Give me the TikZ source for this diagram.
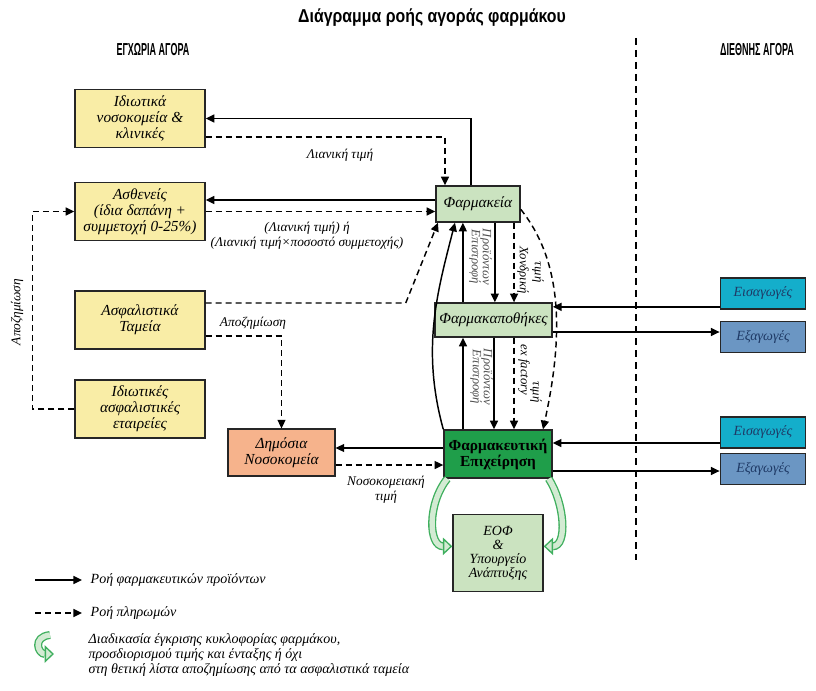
\documentclass[tikz,border=0pt]{standalone}
\usepackage{fontspec}
\setmainfont{Liberation Serif}
\newfontfamily\headfont[FakeStretch=0.85]{Liberation Sans}
\newfontfamily\subfont[FakeStretch=0.52]{Liberation Sans}
\usetikzlibrary{arrows.meta,positioning,calc}
\definecolor{cYel}{HTML}{F9EDA6}
\definecolor{cLgreen}{HTML}{CBE3C0}
\definecolor{cDgreen}{HTML}{1F9E4A}
\definecolor{cSalmon}{HTML}{F6B38C}
\definecolor{cCyan}{HTML}{14AECB}
\definecolor{cSteel}{HTML}{6B96C3}
\definecolor{cArr}{HTML}{3FAF5E}
\definecolor{cArrFill}{HTML}{D3EBD3}
\definecolor{cInk}{HTML}{1F3A66}

\begin{document}
\begin{tikzpicture}[x=0.75pt,y=-0.75pt,font=\fontsize{11.5}{12}\selectfont\itshape,
   >={Triangle[length=6.5pt,width=6pt]},
   blk/.style={draw=black!85,line width=1.1pt,align=center,inner sep=1pt},
   yel/.style={blk,fill=cYel,minimum width=97.5pt,minimum height=43.5pt},
   grn/.style={blk,fill=cLgreen},
   io/.style={blk,minimum width=64pt,minimum height=23pt,text=cInk,font=\fontsize{10.5}{11}\selectfont\itshape},
   flow/.style={line width=1.1pt,->},
   pay/.style={flow,dash pattern=on 4.5pt off 3pt},
   lbl/.style={font=\fontsize{10}{11.25}\selectfont\itshape,align=center},
   vlbl/.style={font=\fontsize{9.5}{10}\selectfont\itshape,text=black!70,rotate=-90},
   leg/.style={font=\fontsize{10.5}{11.25}\selectfont\itshape},
   apr/.style={draw=cArr,line width=1pt,double=cArrFill,double distance=4pt,
      -{Triangle[open,fill=cArrFill,length=7pt,width=13pt]}}]
  \useasboundingbox (0,0) rectangle (816,691);

  % headings
  \node[font=\headfont\bfseries\upshape\fontsize{14}{16}\selectfont] (title) at (432,18) {Διάγραμμα ροής αγοράς φαρμάκου};
  \node[font=\subfont\bfseries\upshape\fontsize{13}{15}\selectfont] (loc) at (153,50) {ΕΓΧΩΡΙΑ ΑΓΟΡΑ};
  \node[font=\subfont\bfseries\upshape\fontsize{13}{15}\selectfont] (intl) at (757,50) {ΔΙΕΘΝΗΣ ΑΓΟΡΑ};
  \coordinate (dtop) at (636,38);
  \coordinate (dbot) at (636,560);
  \draw[line width=0.9pt,dash pattern=on 5pt off 4pt] (dtop) -- (dbot);

  % boxes
  \node[yel] (privh) at (140,118.5) {Ιδιωτικά\\νοσοκομεία \&\\κλινικές};
  \node[yel] (pat) at (140,211.5) {Ασθενείς\\(ίδια δαπάνη +\\συμμετοχή 0-25\%)};
  \node[yel] (fund) at (140,320) {Ασφαλιστικά\\Ταμεία};
  \node[yel] (ins) at (140,409) {Ιδιωτικές\\ασφαλιστικές\\εταιρείες};
  \node[blk,fill=cSalmon,minimum width=80pt,minimum height=35pt] (hosp) at (281.5,452.5) {Δημόσια\\Νοσοκομεία};
  \node[grn,minimum width=63pt,minimum height=27pt] (pharm) at (478,204) {Φαρμακεία};
  \node[grn,minimum width=88pt,minimum height=25.5pt] (whs) at (493.5,320) {Φαρμακαποθήκες};
  \node[blk,fill=cDgreen,minimum width=81pt,minimum height=36pt,
        font=\fontsize{11.5}{12}\selectfont\bfseries] (comp) at (498,454) {Φαρμακευτική\\Επιχείρηση};
  \node[grn,minimum width=67.5pt,minimum height=58pt,font=\fontsize{10.5}{10.5}\selectfont\itshape] (eof) at (498,553) {ΕΟΦ\\\&\\Υπουργείο\\Ανάπτυξης};
  \node[io,fill=cCyan] (imp1) at (763,293.5) {Εισαγωγές};
  \node[io,fill=cSteel] (exp1) at (763,337) {Εξαγωγές};
  \node[io,fill=cCyan] (imp2) at (763,432.5) {Εισαγωγές};
  \node[io,fill=cSteel] (exp2) at (763,469) {Εξαγωγές};

  % products and payments, left side
  \draw[flow] ([xshift=-5.25pt]pharm.north) |- (privh.east);
  \draw[pay] ([yshift=-14pt]privh.east) -| ([xshift=-24.75pt]pharm.north);
  \draw[flow] ([yshift=3pt]pharm.west) -- ([yshift=3pt]pharm.west -| pat.east);
  \draw[pay] (pat.east) -- (pat.east -| pharm.west);
  \draw[pay] ([yshift=12.75pt]fund.east) -- ++(200,0) -- ([xshift=2pt]pharm.south west);
  \draw[pay] ([yshift=-12pt]fund.east) -| (hosp.north);
  \draw[pay] (ins.west) -- ++(-42,0) |- (pat.west);
  \draw[flow] ([yshift=4.5pt]comp.west) -- ([yshift=4.5pt]comp.west -| hosp.east);
  \draw[pay] ([yshift=-9.4pt]hosp.east) -- ([yshift=-9.4pt]hosp.east -| comp.west);
  \draw[flow] (comp.north west) .. controls +(-22,-80) and +(-18,70) .. ([xshift=-17.25pt]pharm.south);

  % chain pharmacy - wholesaler - company
  \draw[flow] ([xshift=-23pt]whs.north) -- ([xshift=-23pt]whs.north |- pharm.south);
  \draw[flow] ([xshift=1pt]whs.north |- pharm.south) -- ([xshift=1pt]whs.north);
  \draw[pay] ([xshift=15.4pt]whs.north |- pharm.south) -- ([xshift=15.4pt]whs.north);
  \draw[pay] ([yshift=-4pt]pharm.east) .. controls +(40,50) and +(22,-100) .. ([xshift=33.75pt]comp.north);
  \draw[flow] ([xshift=-26.25pt]comp.north) -- ([xshift=-26.25pt]comp.north |- whs.south);
  \draw[flow] ([xshift=-3pt]comp.north |- whs.south) -- ([xshift=-3pt]comp.north);
  \draw[pay] ([xshift=12pt]comp.north |- whs.south) -- ([xshift=12pt]comp.north);

  % trade
  \draw[flow] ([yshift=-10pt]imp1.west) -- ([yshift=-10pt]imp1.west -| whs.east);
  \draw[flow] ([yshift=-9pt]whs.east) -- ([yshift=-9pt]whs.east -| exp1.west);
  \draw[flow] ([yshift=-7.9pt]imp2.west) -- ([yshift=-7.9pt]imp2.west -| comp.east);
  \draw[flow] ([yshift=-12.75pt]comp.east) -- ([yshift=-12.75pt]comp.east -| exp2.west);

  % approval loop
  \draw[apr] ([xshift=3pt]comp.south west) .. controls +(-20,25) and +(-24,0) .. ([yshift=5pt]eof.west);
  \draw[apr] ([xshift=-3pt]comp.south east) .. controls +(16,25) and +(24,0) .. ([yshift=5pt]eof.east);

  % labels
  \node[lbl] (lret) at (340,155) {Λιανική τιμή};
  \node[lbl] (lpat) at (307,236) {(Λιανική τιμή) ή\\(Λιανική τιμή×ποσοστό συμμετοχής)};
  \node[lbl] (lfund) at (253,323) {Αποζημίωση};
  \node[lbl,rotate=90] (lins) at (17,312) {Αποζημίωση};
  \node[lbl] (lhosp) at (386,490) {Νοσοκομειακή\\τιμή};
  \node[vlbl] (rt1) at (475,257) {Επιστροφή};
  \node[vlbl] (rt2) at (486,257) {Προϊόντων};
  \node[vlbl,text=black] (wp1) at (523,270) {Χονδρική};
  \node[vlbl,text=black] (wp2) at (538,272) {τιμή};
  \node[vlbl] (rt3) at (476,377) {Επιστροφή};
  \node[vlbl] (rt4) at (487,377) {Προϊόντων};
  \node[vlbl,text=black] (ef1) at (524,370) {ex factory};
  \node[vlbl,text=black] (ef2) at (536,392) {τιμή};

  % legend
  \coordinate (l1a) at (35,580);
  \coordinate (l1b) at (82,580);
  \draw[flow] (l1a) -- (l1b);
  \node[leg,anchor=west] (l1t) at (86,580) {Ροή φαρμακευτικών προϊόντων};
  \coordinate (l2a) at (35,613);
  \coordinate (l2b) at (82,613);
  \draw[pay] (l2a) -- (l2b);
  \node[leg,anchor=west] (l2t) at (86,613) {Ροή πληρωμών};
  \coordinate (l3a) at (50,635);
  \coordinate (l3b) at (54,654);
  \draw[apr] (l3a) .. controls +(-18,2) and +(-16,0) .. (l3b);
  \node[leg,anchor=north west,align=left] (l3t) at (84,629) {Διαδικασία έγκρισης κυκλοφορίας φαρμάκου,\\προσδιορισμού τιμής και ένταξης ή όχι\\στη θετική λίστα αποζημίωσης από τα ασφαλιστικά ταμεία};
\end{tikzpicture}
\end{document}
